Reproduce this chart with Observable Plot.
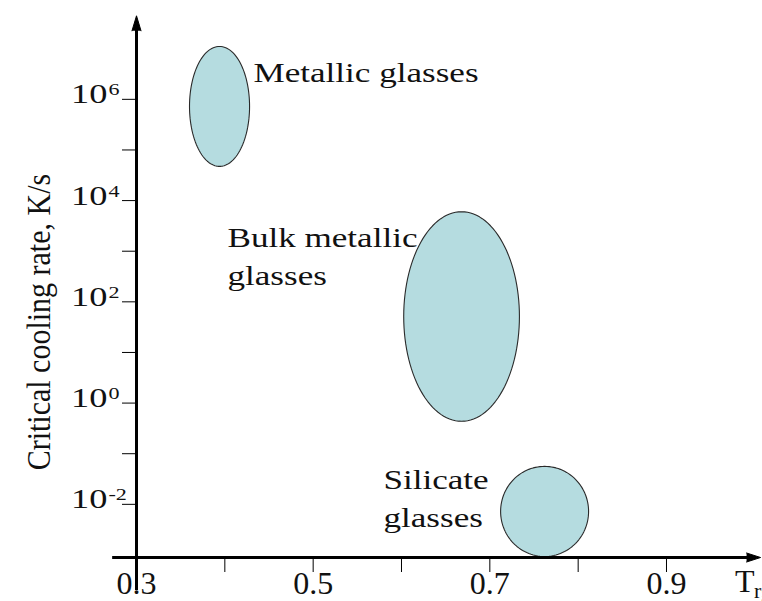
<!DOCTYPE html>
<html><head><meta charset="utf-8">
<script src="https://cdn.jsdelivr.net/npm/d3@7"></script>
<script src="https://cdn.jsdelivr.net/npm/@observablehq/plot@0.6"></script>
<style>body{margin:0;background:#fff} #chart svg{display:block}</style>
</head><body><div id="chart"></div>
<script>
// Glass families: centre and half-extent of each region (x = Trg, y = log10 of K/s)
const glassTypes = ["Metallic glasses", "Bulk metallic glasses", "Silicate glasses"];
const centerTrg = [0.394, 0.668, 0.762];
const halfWidthTrg = [0.034, 0.0655, 0.0498];
const centerLogRate = [5.86, 1.71, -2.14];
const halfLogRate = [1.185, 2.07, 0.89];

// Region labels
const labelLines = ["Metallic glasses", "Bulk metallic\nglasses", "Silicate\nglasses"];
const labelTrg = [0.4325, 0.403, 0.5796];
const labelLogRate = [6.87, 3.61, -1.17];

// Axes
const xTickValues = [0.4, 0.5, 0.6, 0.7, 0.8, 0.9];
const xLabelValues = [0.3, 0.5, 0.7, 0.9];
const xTickLabels = ["0.3", "0.5", "0.7", "0.9"];
const yTickExponents = [-2, -1, 0, 1, 2, 3, 4, 5, 6];
const yLabelExponents = [-2, 0, 2, 4, 6];
const xDomain = [0.3, 1.0];
const yLogDomain = [-3.05, 7.65];
const yAxisExtent = [-3.7, 7.65];
const xAxisExtent = [0.273, 1.0065];
const yTitle = "Critical cooling rate, K/s";
const xTitle = "T";
const xTitleSub = "rg";

const serif = "Liberation Serif, Times New Roman, serif";

const ellipsePts = glassTypes.flatMap((g, i) => d3.range(0, 121).map(k => {
  const t = k / 120 * 2 * Math.PI;
  return {group: g,
    x: centerTrg[i] + halfWidthTrg[i] * Math.cos(t),
    y: 10 ** (centerLogRate[i] + halfLogRate[i] * Math.sin(t))};
}));

const labels = labelLines.map((t, i) => ({text: t, x: labelTrg[i], y: 10 ** labelLogRate[i]}));
const yBase = yLabelExponents.map(e => ({e, y: 10 ** e}));
const xLab = xLabelValues.map((v, i) => ({x: v, text: xTickLabels[i]}));
const yAxisY = 10 ** yLogDomain[0];

const chart = Plot.plot({
  width: 762, height: 601,
  marginLeft: 136, marginRight: 762 - 136 - 7 * 88.333,
  marginTop: 15.3, marginBottom: 44,
  style: {fontFamily: serif, background: "#fff", color: "#000"},
  x: {domain: xDomain, ticks: xTickValues, tickSize: 15, tickFormat: () => "", label: null},
  y: {type: "log", domain: yLogDomain.map(e => 10 ** e), ticks: yTickExponents.map(e => 10 ** e),
      tickSize: 14, tickFormat: () => "", label: null},
  marks: [
    Plot.line(ellipsePts, {x: "x", y: "y", z: "group", fill: "#b5dce0", stroke: "#2a2a2a", strokeWidth: 1.1}),
    Plot.ruleX([xDomain[0]], {y1: 10 ** yAxisExtent[0], y2: 10 ** (yAxisExtent[1] - 0.2), stroke: "#000", strokeWidth: 3}),
    Plot.ruleY([yAxisY], {x1: xAxisExtent[0], x2: xAxisExtent[1] - 0.012, stroke: "#000", strokeWidth: 3}),
    Plot.vector([0], {x: xDomain[0], y: 10 ** yAxisExtent[1], rotate: 0, length: 15, r: 4.5, shape: "spike", anchor: "end", fill: "#000", stroke: "#000", strokeWidth: 1}),
    Plot.vector([0], {x: xAxisExtent[1], y: yAxisY, rotate: 90, length: 14, r: 4.5, shape: "spike", anchor: "end", fill: "#000", stroke: "#000", strokeWidth: 1}),
    Plot.text(labels, {x: "x", y: "y", text: "text", textAnchor: "start", lineAnchor: "top", fontSize: 27, lineHeight: 1.4, fontFamily: serif, fill: "#111", ariaDescription: "stretch"}),
    Plot.text(yBase, {x: xDomain[0], y: "y", text: () => "10", textAnchor: "end", lineAnchor: "bottom", dx: -29, dy: 4, fontSize: 28, fontFamily: serif, fill: "#111", ariaDescription: "stretch"}),
    Plot.text(yBase, {x: xDomain[0], y: "y", text: d => String(d.e), textAnchor: "start", lineAnchor: "bottom", dx: -28, dy: -4, fontSize: 17, fontFamily: serif, fill: "#111", ariaDescription: "stretch"}),
    Plot.text(xLab, {x: "x", y: yAxisY, text: "text", textAnchor: "middle", lineAnchor: "top", dy: 14, fontSize: 32, fontFamily: serif, fill: "#111"}),
    Plot.text([xTitle], {x: 0.9775, y: yAxisY, text: d => d, textAnchor: "start", lineAnchor: "top", dy: 12, fontSize: 32, fontFamily: serif, fill: "#111"}),
    Plot.text([xTitleSub], {x: 0.9775, y: yAxisY, text: d => d, textAnchor: "start", lineAnchor: "bottom", dx: 19, dy: 40, fontSize: 22, fontFamily: serif, fill: "#111"}),
    Plot.text([yTitle], {x: xDomain[0], y: 10 ** 1.6, text: d => d, rotate: -90, textAnchor: "middle", lineAnchor: "middle", dx: -98, fontSize: 30, fontFamily: serif, fill: "#111", ariaDescription: "stretchY"})
  ]
});

// horizontal stretch of the wide serif lettering (scale about each text's anchor)
d3.select(chart).selectAll('g[aria-description="stretch"] text').each(function() {
  const t = this.getAttribute("transform") || "";
  this.setAttribute("transform", `${t} scale(1.3,1)`);
});
// rotated title: widen the glyphs (local y axis is horizontal after rotation)
d3.select(chart).selectAll('g[aria-description="stretchY"] text').each(function() {
  const t = this.getAttribute("transform") || "";
  this.setAttribute("transform", `${t} scale(1,1.15)`);
});
document.getElementById("chart").appendChild(chart);
</script>
</body></html>
